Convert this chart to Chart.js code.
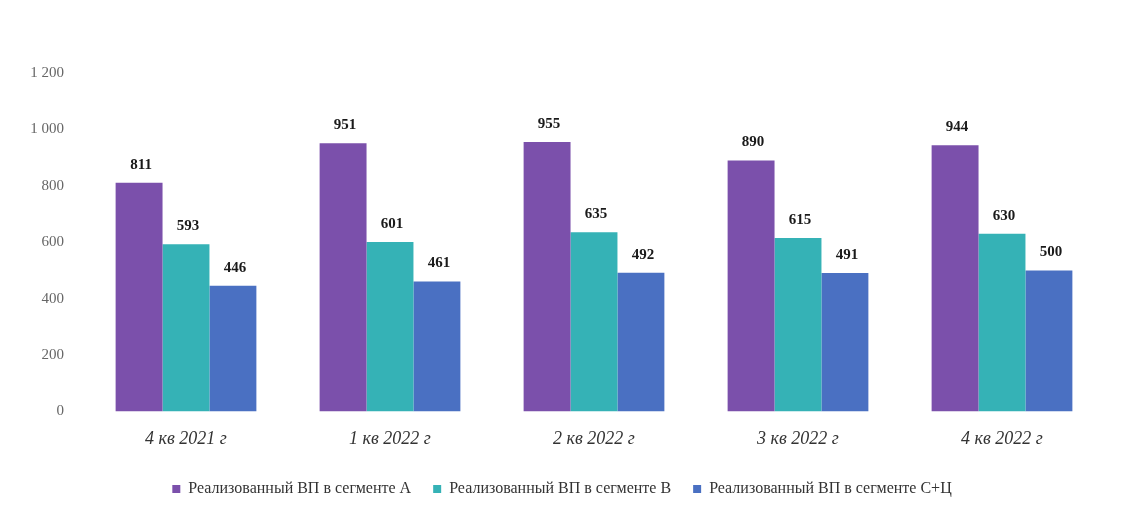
<!DOCTYPE html>
<html>
<head>
<meta charset="utf-8">
<script src="https://cdn.jsdelivr.net/npm/chart.js@4/dist/chart.umd.min.js"></script>
<style>
  html, body { margin: 0; padding: 0; background: #fff; }
  #wrap { width: 1125px; height: 520px; }
</style>
</head>
<body>
<div id="wrap"><canvas id="chart" width="1125" height="520"></canvas></div>
<script>
// Quarterly values
const quarters = ['4 кв 2021 г', '1 кв 2022 г', '2 кв 2022 г', '3 кв 2022 г', '4 кв 2022 г'];
const seriesNames = ['Реализованный ВП в сегменте А', 'Реализованный ВП в сегменте В', 'Реализованный ВП в сегменте С+Ц'];
const seriesA = [811, 951, 955, 890, 944];
const seriesB = [593, 601, 635, 615, 630];
const seriesC = [446, 461, 492, 491, 500];
const yTicks = [0, 200, 400, 600, 800, 1000, 1200];

const colors = ['#7b50ab', '#35b2b6', '#4a70c2'];
const serif = "'Liberation Serif', 'DejaVu Serif', serif";

function fmt(v) {
    return String(v).replace(/\B(?=(\d{3})+(?!\d))/g, ' ');
}

// Value labels above the bars, with a white box behind them
const barLabels = {
    id: 'barLabels',
    afterDatasetsDraw(chart) {
        const ctx = chart.ctx;
        ctx.save();
        ctx.font = 'bold 15px ' + serif;
        ctx.textAlign = 'center';
        ctx.textBaseline = 'middle';
        chart.data.datasets.forEach((ds, i) => {
            chart.getDatasetMeta(i).data.forEach((bar, j) => {
                const txt = fmt(ds.data[j]);
                const w = ctx.measureText(txt).width;
                const x = bar.x + 2;
                const y = bar.y - 18;
                ctx.fillStyle = '#fff';
                ctx.fillRect(x - w / 2 - 4, y - 10, w + 8, 20);
                ctx.fillStyle = '#1a1a1a';
                ctx.fillText(txt, x, y);
            });
        });
        ctx.restore();
    }
};

new Chart(document.getElementById('chart'), {
    type: 'bar',
    data: {
        labels: quarters,
        datasets: [seriesA, seriesB, seriesC].map((d, i) => ({
            label: seriesNames[i],
            data: d,
            backgroundColor: colors[i],
            borderWidth: 0,
            categoryPercentage: 0.69,
            barPercentage: 1.0
        }))
    },
    options: {
        responsive: false,
        animation: false,
        layout: { padding: { left: 20, right: 21, top: 73, bottom: 13 } },
        scales: {
            x: {
                grid: { display: false },
                border: { display: false },
                ticks: { color: '#333', padding: 9, font: { family: serif, size: 18, style: 'italic' } }
            },
            y: {
                min: 0,
                max: 1200,
                afterBuildTicks: axis => { axis.ticks = yTicks.map(v => ({ value: v })); },
                afterFit: axis => { axis.width = 64; },
                grid: { display: false },
                border: { display: false },
                ticks: { color: '#666', padding: 12, font: { family: serif, size: 15 }, callback: v => fmt(v) }
            }
        },
        plugins: {
            legend: {
                position: 'bottom',
                labels: {
                    color: '#333',
                    boxWidth: 8,
                    boxHeight: 8,
                    padding: 22,
                    font: { family: serif, size: 16 }
                }
            },
            tooltip: { enabled: false }
        }
    },
    plugins: [barLabels]
});
</script>
</body>
</html>
